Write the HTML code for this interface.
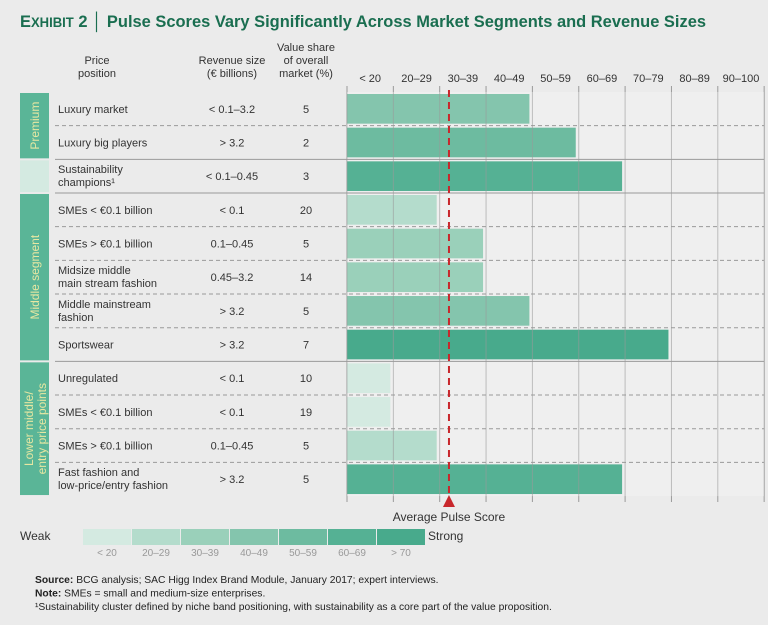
<!DOCTYPE html>
<html><head><meta charset="utf-8"><style>
body{margin:0;background:#ebebeb;font-family:"Liberation Sans",sans-serif;}
#wrap{position:relative;width:768px;height:625px;overflow:hidden;}
</style></head><body>
<div id="wrap">
<svg id="chart" width="768" height="625" font-family="Liberation Sans, sans-serif">
<text x="20" y="27" font-size="17" font-weight="bold" fill="#1a6e50" textLength="686" lengthAdjust="spacingAndGlyphs"><tspan font-size="17">E</tspan><tspan font-size="13.5">XHIBIT</tspan> 2 │ Pulse Scores Vary Significantly Across Market Segments and Revenue Sizes</text>
<g font-size="11" fill="#333" text-anchor="middle">
<text x="97" y="64"><tspan x="97">Price</tspan><tspan x="97" dy="13">position</tspan></text>
<text x="232" y="64"><tspan x="232">Revenue size</tspan><tspan x="232" dy="13">(€ billions)</tspan></text>
<text x="306" y="51"><tspan x="306">Value share</tspan><tspan x="306" dy="13">of overall</tspan><tspan x="306" dy="13">market (%)</tspan></text>
</g>
<g id="grid"></g><g id="bars"></g><g id="rows"></g>
</svg>
</div>
<script>
const columns=["< 20","20–29","30–39","40–49","50–59","60–69","70–79","80–89","90–100"];
const rowNames=[["Luxury market"],["Luxury big players"],["Sustainability","champions¹"],["SMEs < €0.1 billion"],["SMEs > €0.1 billion"],["Midsize middle","main stream fashion"],["Middle mainstream","fashion"],["Sportswear"],["Unregulated"],["SMEs < €0.1 billion"],["SMEs > €0.1 billion"],["Fast fashion and","low-price/entry fashion"]];
const revenue=["< 0.1–3.2","> 3.2","< 0.1–0.45","< 0.1","0.1–0.45","0.45–3.2","> 3.2","> 3.2","< 0.1","< 0.1","0.1–0.45","> 3.2"];
const share=[5,2,3,20,5,14,5,7,10,19,5,5];
const scoreLevel=[4,5,6,2,3,3,4,7,1,1,2,6];
const averageScore=32;
const legendLabels=["< 20","20–29","30–39","40–49","50–59","60–69","> 70"];
const palette=["#d4eae1","#b4dccc","#9ad0ba","#84c5ad","#6dbba0","#55b194","#48aa8c"];
const segments=[["Premium",0,2,"#5ab597"],["",2,3,"#d4eae1"],["Middle segment",3,8,"#5ab597"],["Lower middle/|entry price points",8,12,"#5ab597"]];
const solidAfter=[2,3,8];
const NS="http://www.w3.org/2000/svg";
const svg=document.getElementById('chart');
const X0=347,CW=46.35,Y0=92,RH=33.67;
const x=v=>X0+v*CW, y=i=>Y0+i*RH;
function el(t,a,p){const e=document.createElementNS(NS,t);for(const k in a)e.setAttribute(k,a[k]);(p||svg).appendChild(e);return e;}
const grid=document.getElementById('grid'),bars=document.getElementById('bars'),rows=document.getElementById('rows');
columns.forEach((c,i)=>{const t=el('text',{x:x(i+0.5),y:82,'font-size':11,'text-anchor':'middle',fill:'#333'},grid);t.textContent=c;

});
for(let i=0;i<=9;i++){const l=el('line',{x1:x(i),x2:x(i),y1:86,y2:y(12)+6,stroke:'#9a9a9a','stroke-width':1},grid);

}
el('rect',{x:x(0),y:Y0,width:x(9)-x(0),height:RH*12,fill:'#efefef'},grid);
segments.forEach(s=>{const r=el('rect',{x:20,y:y(s[1])+1,width:29,height:(s[2]-s[1])*RH-2,fill:s[3]},rows);


if(s[0]){const parts=s[0].split('|');const cx=35,cy=(y(s[1])+y(s[2]))/2;
const t=el('text',{x:cx,y:cy,'font-size':12,fill:'#e7e7a2','text-anchor':'middle',transform:`rotate(-90 ${cx} ${cy})`},rows);
parts.forEach((p,k)=>{const ts=el('tspan',{x:cx,dy:k==0?(parts.length==1?4:-2):13},t);ts.textContent=p;});

}});
rowNames.forEach((n,i)=>{const cy=y(i)+RH/2;
const b=el('rect',{x:x(0),y:y(i)+2,width:x(scoreLevel[i])-x(0)-3,height:RH-4,fill:palette[scoreLevel[i]-1]},bars);


const t=el('text',{x:58,y:n.length==1?cy+4:cy-3,'font-size':11,fill:'#333'},rows);
n.forEach((p,k)=>{const ts=el('tspan',{x:58,dy:k?13:0},t);ts.textContent=p;});


const r=el('text',{x:232,y:cy+4,'font-size':11,fill:'#333','text-anchor':'middle'},rows);r.textContent=revenue[i];


const s=el('text',{x:306,y:cy+4,'font-size':11,fill:'#333','text-anchor':'middle'},rows);s.textContent=share[i];


if(i>0){const solid=solidAfter.includes(i);const l=el('line',{x1:55,x2:764,y1:y(i),y2:y(i),stroke:'#9a9a9a','stroke-width':1,'stroke-dasharray':solid?'':'4 3'},rows);

}
});
for(let i=0;i<=9;i++){const l=el('line',{x1:x(i),x2:x(i),y1:Y0,y2:y(12),stroke:'#9a9a9a','stroke-width':1,'stroke-opacity':0.6},rows);

}
const ax=x(averageScore/10-1.0);
const avg=el('line',{x1:ax,x2:ax,y1:90,y2:y(12)+2,stroke:'#c8272c','stroke-width':2,'stroke-dasharray':'7 5'},rows);


const tri=el('polygon',{points:`${ax-6},${y(12)+11} ${ax+6},${y(12)+11} ${ax},${y(12)-1}`,fill:'#c8272c'},rows);


const at=el('text',{x:ax,y:521,'font-size':12,fill:'#333','text-anchor':'middle'},rows);at.textContent='Average Pulse Score';


const w=el('text',{x:20,y:540,'font-size':12,fill:'#333'});w.textContent='Weak';


legendLabels.forEach((l,i)=>{const r=el('rect',{x:83+i*49,y:529,width:48,height:16,fill:palette[i]});


const t=el('text',{x:107+i*49,y:556,'font-size':10,fill:'#999','text-anchor':'middle'});t.textContent=l;

});
const st=el('text',{x:428,y:540,'font-size':12,fill:'#333'});st.textContent='Strong';


const foot=[["Source:"," BCG analysis; SAC Higg Index Brand Module, January 2017; expert interviews."],["Note:"," SMEs = small and medium-size enterprises."],["","¹Sustainability cluster defined by niche band positioning, with sustainability as a core part of the value proposition."]];
foot.forEach((f,i)=>{const t=el('text',{x:35,y:583+i*13.5,'font-size':10.3,fill:'#222'});
if(f[0]){const b=el('tspan',{'font-weight':'bold'},t);b.textContent=f[0];}
const s=el('tspan',{},t);s.textContent=f[1];

});
</script>
</body></html>
